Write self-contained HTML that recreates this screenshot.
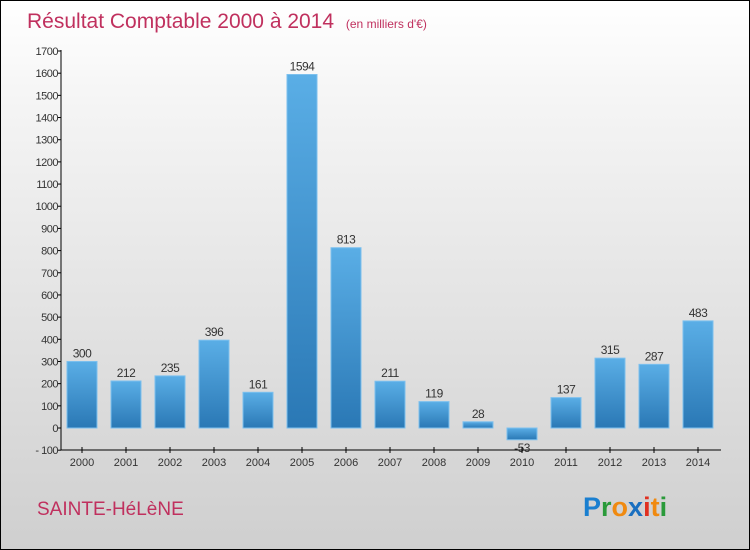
<!DOCTYPE html>
<html><head><meta charset="utf-8">
<style>
body{margin:0}
#c{position:relative;width:748px;height:548px;border:1px solid #000;background:linear-gradient(#ffffff,#f4f4f4 20%,#cfcfcf);font-family:"Liberation Sans",sans-serif;overflow:hidden}
</style></head><body>
<div id="c">
<svg width="748" height="548">
<defs><linearGradient id="g" x1="0" y1="0" x2="0" y2="1"><stop offset="0" stop-color="#5aaee6"/><stop offset="1" stop-color="#2a78b5"/></linearGradient></defs>
<text x="26" y="27" font-size="21" fill="#c0305e">Résultat Comptable 2000 à 2014 <tspan font-size="12" dx="6">(en milliers d'€)</tspan></text>
<g id="plot"></g>
<text x="36" y="514" font-size="19" fill="#c0305e">SAINTE-HéLèNE</text>
<text x="582" y="515" font-size="27" font-weight="bold"><tspan fill="#1a7fd0">P</tspan><tspan fill="#2a9a3a">r</tspan><tspan fill="#f08a10">o</tspan><tspan fill="#1a6fc0">x</tspan><tspan fill="#e03020">i</tspan><tspan fill="#f08a10">t</tspan><tspan fill="#2a9a3a">i</tspan></text>
</svg>
</div>
<script>
const categories=["2000","2001","2002","2003","2004","2005","2006","2007","2008","2009","2010","2011","2012","2013","2014"];
const values=[300,212,235,396,161,1594,813,211,119,28,-53,137,315,287,483];
const yTicks=[-100,0,100,200,300,400,500,600,700,800,900,1000,1100,1200,1300,1400,1500,1600,1700];
const NS="http://www.w3.org/2000/svg";
const g=document.getElementById('plot');
const y=v=>427-v*(377/1700);
const x=i=>81+i*44;
function el(t,a,txt){const e=document.createElementNS(NS,t);for(const k in a)e.setAttribute(k,a[k]);if(txt!==undefined)e.textContent=txt;g.appendChild(e);return e;}
let ax=el('line',{x1:60,y1:49,x2:60,y2:449,stroke:'#000'});


let bx=el('line',{x1:60,y1:449,x2:720,y2:449,stroke:'#000'});


yTicks.forEach(v=>{
 let t=el('line',{x1:57,x2:60,y1:y(v),y2:y(v),stroke:'#000'});
 
 
 let l=el('text',{x:57,y:y(v)+4,'font-size':11,'text-anchor':'end',fill:'#333','letter-spacing':'-0.5'},v<0?'- '+(-v):String(v));
 
 
});
categories.forEach((c,i)=>{
 const v=values[i];
 let r=el('rect',{x:x(i)-15,y:Math.min(y(v),y(0)),width:30,height:Math.abs(y(v)-y(0)),fill:'url(#g)',stroke:'#7cc0ee','stroke-width':1});
 
 
 let vl=el('text',{x:x(i),y:v>=0?y(v)-4:y(v)+12,'font-size':12,'text-anchor':'middle',fill:'#333','letter-spacing':'-0.5'},v<0?'-'+(-v):String(v));
 
 
 let t=el('line',{x1:x(i),x2:x(i),y1:446,y2:452,stroke:'#000'});
 
 
 let xl=el('text',{x:x(i),y:465,'font-size':11,'text-anchor':'middle',fill:'#333'},c);
 
 
});
</script>
</body></html>
